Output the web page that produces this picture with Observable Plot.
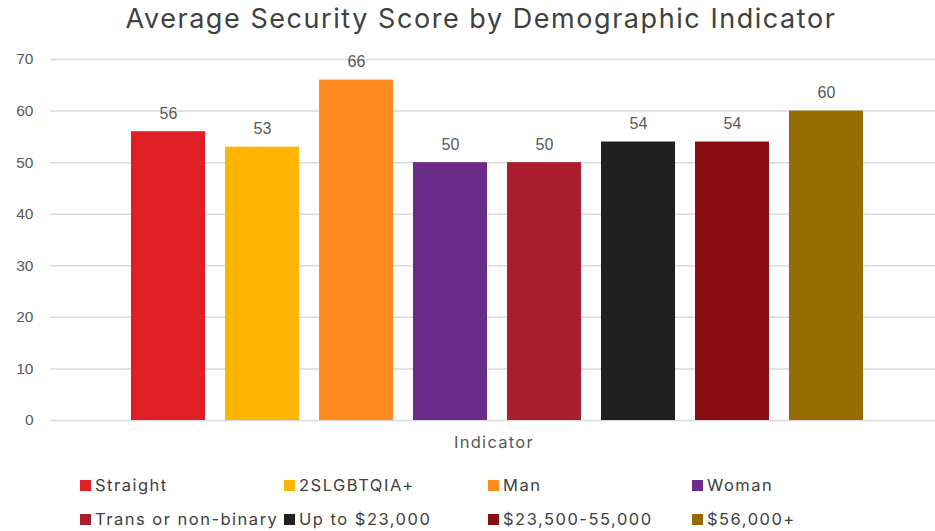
<!DOCTYPE html>
<html>
<head>
<meta charset="utf-8">
<script src="https://cdn.jsdelivr.net/npm/d3@7"></script>
<script src="https://cdn.jsdelivr.net/npm/@observablehq/plot@0.6"></script>
<style>
  body { margin: 0; background: #fff; width: 935px; height: 531px; overflow: hidden; font-family: Inter, "Noto Sans", sans-serif; }
  #title { position: absolute; left: 0; top: 0; width: 962px; text-align: center; font-size: 27px; color: #404040; line-height: 38px; height: 45px; letter-spacing: 1.55px; }
  #chart { position: absolute; left: 0; top: 45px; }
  #legend { position: absolute; left: 80px; top: 468px; width: 850px; }
  .row { display: flex; height: 34px; align-items: center; }
  .item { width: 204px; display: flex; align-items: center; font-size: 16.5px; color: #404040; white-space: nowrap; letter-spacing: 1.5px; }
  .sw { width: 11px; height: 11px; margin-right: 4px; flex: none; }
</style>
</head>
<body>
<div id="title">Average Security Score by Demographic Indicator</div>
<div id="chart"></div>
<div id="legend"></div>
<script>
const categories = ["Straight", "2SLGBTQIA+", "Man", "Woman", "Trans or non-binary", "Up to $23,000", "$23,500-55,000", "$56,000+"];
const scores = [56, 53, 66, 50, 50, 54, 54, 60];
const colors = ["#e01e26", "#ffb500", "#ff8a1d", "#6b2c88", "#a91d2e", "#1f1f1f", "#8a0d14", "#966c00"];
const yTicks = [0, 10, 20, 30, 40, 50, 60, 70];
const title = "Average Security Score by Demographic Indicator";
const xLabel = "Indicator";

const data = categories.map((c, i) => ({category: c, score: scores[i]}));

const chart = Plot.plot({
  width: 935,
  height: 410,
  marginTop: 14,
  marginBottom: 35,
  marginLeft: 50,
  marginRight: 0,
  style: {fontFamily: "Liberation Sans, Arial, sans-serif", background: "#fff"},
  x: {domain: categories, padding: 0.2128, insetLeft: 61, insetRight: 52, round: false, axis: null},
  y: {domain: [0, 70], ticks: yTicks, axis: null},
  color: {domain: categories, range: colors},
  marks: [
    Plot.gridY(yTicks, {stroke: "#d9d9d9", strokeOpacity: 1, strokeWidth: 1.5}),
    Plot.barY(data, {x: "category", y: "score", fill: "category"}),
    Plot.text(data, {x: "category", y: "score", text: d => String(d.score), lineAnchor: "bottom", dy: -13, fontSize: 16, fill: "#595959"}),
    Plot.axisY({ticks: yTicks, tickSize: 0, tickPadding: 17, fontSize: 15.5, color: "#595959", label: null}),
    Plot.text([xLabel], {frameAnchor: "bottom", dy: 27, dx: 1, fontSize: 16.5, fill: "#595959", fontFamily: "Inter, Noto Sans, sans-serif"})
  ]
});
d3.select(chart).selectAll("text").filter(function() { return this.textContent === xLabel; }).style("letter-spacing", "1.3px");
document.getElementById("chart").appendChild(chart);

const legend = document.getElementById("legend");
for (let r = 0; r < 2; r++) {
  const row = document.createElement("div");
  row.className = "row";
  for (let c = 0; c < 4; c++) {
    const i = r * 4 + c;
    const item = document.createElement("div");
    item.className = "item";
    const sw = document.createElement("span");
    sw.className = "sw";
    sw.style.background = colors[i];
    item.appendChild(sw);
    item.appendChild(document.createTextNode(categories[i]));
    row.appendChild(item);
  }
  legend.appendChild(row);
}
</script>
</body>
</html>
